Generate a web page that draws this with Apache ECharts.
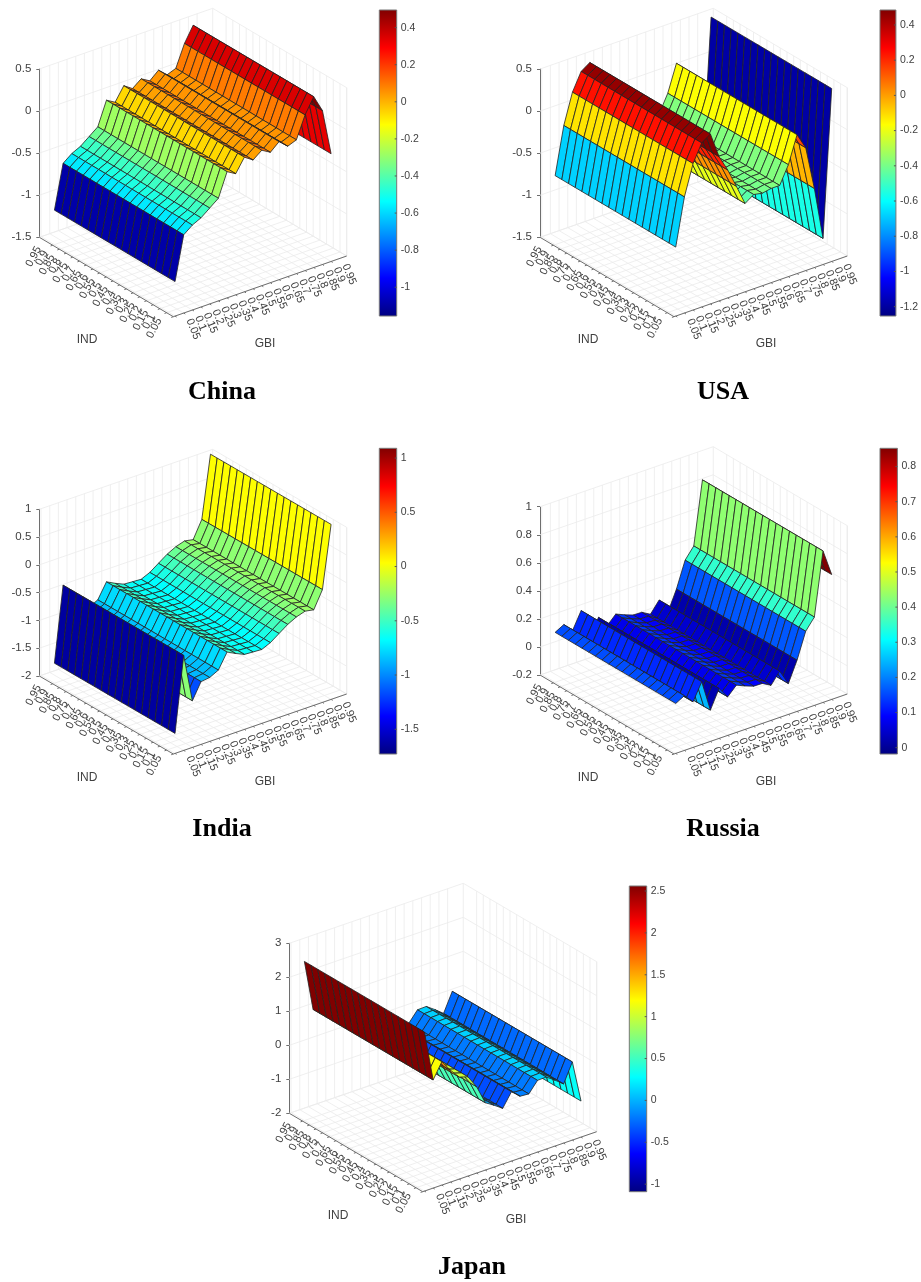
<!DOCTYPE html>
<html>
<head>
<meta charset="utf-8">
<style>
  html, body { margin: 0; padding: 0; background: #fff; }
  #chart { width: 921px; height: 1282px; }
</style>
<script src="https://cdn.jsdelivr.net/npm/echarts@6/dist/echarts.min.js"></script>
</head>
<body>
<div id="chart"></div>
<script>
// tick labels shared by both floor axes
const indLabels = ['0.05','0.1','0.15','0.2','0.25','0.3','0.35','0.4','0.45','0.5','0.55','0.6','0.65','0.7','0.75','0.8','0.85','0.9','0.95'];
const gbiLabels = ['0.05','0.1','0.15','0.2','0.25','0.3','0.35','0.4','0.45','0.5','0.55','0.6','0.65','0.7','0.75','0.8','0.85','0.9','0.95'];

// surface height per GBI level, the ridges run along IND
const chinaZ = [-1.09,-0.57,-0.49,-0.44,-0.36,-0.28,0.0,-0.06,0.1,0.03,0.11,0.05,0.14,0.05,0.09,0.35,0.53,0.33,-0.22];
const usaZ = [-0.68,-0.12,0.24,0.45,0.52,0.215,0.02,-0.21,-0.45,-0.38,-0.4,-0.38,-0.38,-0.17,0.15,-0.04,-0.56,-1.19,0.555];
const indiaZ = [-1.64,-0.29,-1.16,-0.87,-0.85,-0.77,-0.5,-0.58,-0.65,-0.66,-0.67,-0.6,-0.49,-0.38,-0.3,-0.25,-0.28,0.03,1.15];
const russiaZ = [0.156,0.19,0.125,0.247,0.023,0.156,0.075,0.137,0.11,0.087,0.085,0.05,0.13,0.02,0.165,0.35,0.43,0.88,0.69];
const japanZ = [2.68,1.18,1.63,1.29,1.0,0.92,0.54,-0.02,-0.18,-0.36,0.04,-0.18,-0.2,0.11,0.12,-0.06,-0.26,0.3,-0.94];

// colorbar ticks
const chinaBar = [0.4,0.2,0,-0.2,-0.4,-0.6,-0.8,-1];
const usaBar = [0.4,0.2,0,-0.2,-0.4,-0.6,-0.8,-1,-1.2];
const indiaBar = [1,0.5,0,-0.5,-1,-1.5];
const russiaBar = [0.8,0.7,0.6,0.5,0.4,0.3,0.2,0.1,0];
const japanBar = [2.5,2,1.5,1,0.5,0,-0.5,-1];

const jet = ['#000080','#0000ff','#0080ff','#00ffff','#80ff80','#ffff00','#ff8000','#ff0000','#800000'];

const panels = [
  { name: 'China', z: chinaZ, bar: chinaBar, cmin: -1.155, cmax: 0.495, zmin: -1.5, zmax: 0.5, zstep: 0.5,
    L: [39.3, 237.3], F: [173.3, 316.7], R: [346.7, 256], zTop: 69, barBox: [379.3, 10, 17.4, 306],
    title: [222, 392], ind: [87, 340], gbi: [265, 344] },
  { name: 'USA', z: usaZ, bar: usaBar, cmin: -1.253, cmax: 0.485, zmin: -1.5, zmax: 0.5, zstep: 0.5,
    L: [540, 237.3], F: [674, 316.7], R: [847.3, 256], zTop: 69, barBox: [880, 10, 17.4, 306],
    title: [723, 392], ind: [588, 340], gbi: [766, 344] },
  { name: 'India', z: indiaZ, bar: indiaBar, cmin: -1.728, cmax: 1.09, zmin: -2, zmax: 1, zstep: 0.5,
    L: [39.3, 676], F: [173.3, 754], R: [346.7, 694], zTop: 509.3, barBox: [379.3, 448.3, 17.4, 305.7],
    title: [222, 829], ind: [87, 778], gbi: [265, 782] },
  { name: 'Russia', z: russiaZ, bar: russiaBar, cmin: -0.018, cmax: 0.852, zmin: -0.2, zmax: 1, zstep: 0.2,
    L: [540, 675], F: [674, 754], R: [847.3, 694], zTop: 506.7, barBox: [880, 448.3, 17.4, 305.7],
    title: [723, 829], ind: [588, 778], gbi: [766, 782] },
  { name: 'Japan', z: japanZ, bar: japanBar, cmin: -1.09, cmax: 2.56, zmin: -2, zmax: 3, zstep: 1,
    L: [289.3, 1113.3], F: [422.7, 1191.7], R: [596.7, 1131.7], zTop: 943.3, barBox: [629.3, 886, 17.4, 305.7],
    title: [472, 1267], ind: [338, 1216], gbi: [516, 1220] }
];

const textColor = '#404040';
const axisColor = '#6e6e6e';
const gridColor = '#ebebeb';

// floor positions of the ticks, the box is 20 steps wide
const indFrac = (i) => i / 20;
const gbiFrac = (j) => (j + 0.2) / 20;

function boxOf(p) {
  const backTop = p.R[1] - p.F[1] + p.zTop;
  return { left: p.L[0], top: backTop, width: p.R[0] - p.L[0], height: p.F[1] - backTop };
}

// orthographic view: floor fractions plus height to the hidden 0..1 axes of the panel grid
function toAxes(p, n, g, z) {
  const box = boxOf(p);
  const zn = (z - p.zmin) / (p.zmax - p.zmin);
  const x = p.F[0] + g * (p.R[0] - p.F[0]) + n * (p.L[0] - p.F[0]);
  const y = p.F[1] + g * (p.R[1] - p.F[1]) + n * (p.L[1] - p.F[1]) - zn * (p.L[1] - p.zTop);
  return [(x - box.left) / box.width, (p.F[1] - y) / box.height];
}

function wallSegments(p) {
  const segs = [];
  const add = (a, b, kind) => segs.push([a[0], a[1], a[2], b[0], b[1], b[2], kind]);
  indLabels.forEach((_, i) => {
    const n = indFrac(i);
    add([n, 0, p.zmin], [n, 1, p.zmin], 0);
    add([n, 1, p.zmin], [n, 1, p.zmax], 0);
    add([n, 0, p.zmin], [n, -0.012, p.zmin], 1);
  });
  gbiLabels.forEach((_, j) => {
    const g = gbiFrac(j);
    add([0, g, p.zmin], [1, g, p.zmin], 0);
    add([1, g, p.zmin], [1, g, p.zmax], 0);
    add([0, g, p.zmin], [-0.012, g, p.zmin], 1);
  });
  const steps = Math.round((p.zmax - p.zmin) / p.zstep);
  for (let s = 0; s <= steps; s++) {
    const z = p.zmin + s * p.zstep;
    add([1, 0, z], [1, 1, z], 0);
    add([1, 1, z], [0, 1, z], 0);
  }
  add([1, 1, p.zmin], [1, 1, p.zmax], 0);
  add([0, 1, p.zmin], [0, 1, p.zmax], 0);
  add([1, 1, p.zmin], [0, 1, p.zmin], 0);
  add([1, 0, p.zmin], [1, 1, p.zmin], 0);
  add([1, 0, p.zmin], [0, 0, p.zmin], 1);
  add([0, 0, p.zmin], [0, 1, p.zmin], 1);
  return segs;
}

// far cells first so the near ridges paint over them
function surfaceCells(p) {
  const cells = [];
  for (let j = p.z.length - 2; j >= 0; j--) {
    for (let i = indLabels.length - 2; i >= 0; i--) {
      cells.push([i, j, p.z[j], p.z[j + 1]]);
    }
  }
  return cells;
}

const grids = [], xAxes = [], yAxes = [], series = [], titles = [];

panels.forEach((p) => {
  const box = boxOf(p);
  const main = grids.length;

  grids.push({ left: box.left, top: box.top, width: box.width, height: box.height });
  xAxes.push({ gridIndex: main, type: 'value', min: 0, max: 1, show: false });
  yAxes.push({ gridIndex: main, type: 'value', min: 0, max: 1, show: false });

  // height axis
  grids.push({ left: p.L[0], top: p.zTop, width: 1, height: p.L[1] - p.zTop });
  xAxes.push({ gridIndex: main + 1, type: 'value', min: 0, max: 1, show: false });
  yAxes.push({
    gridIndex: main + 1, type: 'value', min: p.zmin, max: p.zmax, interval: p.zstep,
    axisLine: { show: true, lineStyle: { color: axisColor, width: 1 } },
    axisTick: { show: true, length: 3, lineStyle: { color: axisColor } },
    axisLabel: { show: true, margin: 8, fontFamily: 'Liberation Sans', fontSize: 11.5, color: textColor },
    splitLine: { show: false }
  });

  // colorbar
  const [bx, by, bw, bh] = p.barBox;
  grids.push({ left: bx, top: by, width: bw, height: bh });
  xAxes.push({ gridIndex: main + 2, type: 'value', min: 0, max: 1, show: false });
  yAxes.push({
    gridIndex: main + 2, type: 'value', position: 'right', min: p.cmin, max: p.cmax,
    axisLine: { show: false },
    axisTick: { show: false },
    axisLabel: { show: true, margin: 4, customValues: p.bar, formatter: (v) => String(v), fontFamily: 'Liberation Sans', fontSize: 10.5, color: textColor },
    splitLine: { show: false }
  });

  series.push({
    type: 'custom', xAxisIndex: main, yAxisIndex: main, silent: true, z: 1,
    data: wallSegments(p),
    renderItem(params, api) {
      const a = api.coord(toAxes(p, api.value(0), api.value(1), api.value(2)));
      const b = api.coord(toAxes(p, api.value(3), api.value(4), api.value(5)));
      const isAxis = api.value(6) === 1;
      return {
        type: 'line', silent: true,
        shape: { x1: a[0], y1: a[1], x2: b[0], y2: b[1] },
        style: { stroke: isAxis ? axisColor : gridColor, lineWidth: isAxis ? 1 : 0.8 }
      };
    }
  });

  series.push({
    type: 'custom', xAxisIndex: main, yAxisIndex: main, silent: true, z: 2,
    data: surfaceCells(p),
    renderItem(params, api) {
      const i = api.value(0), j = api.value(1), z0 = api.value(2), z1 = api.value(3);
      const corner = (ci, cj, cz) => api.coord(toAxes(p, indFrac(ci), gbiFrac(cj), cz));
      const t = Math.max(0, Math.min(1, (z0 - p.cmin) / (p.cmax - p.cmin)));
      return {
        type: 'polygon', silent: true,
        shape: { points: [corner(i, j, z0), corner(i + 1, j, z0), corner(i + 1, j + 1, z1), corner(i, j + 1, z1)] },
        style: { fill: echarts.color.lerp(t, jet), stroke: '#222', lineWidth: 0.8 }
      };
    }
  });

  // rotated tick labels of the floor axes
  series.push({
    type: 'custom', xAxisIndex: main, yAxisIndex: main, silent: true, z: 3,
    data: indLabels.map((_, i) => [i]),
    renderItem(params, api) {
      const i = api.value(0);
      const c = api.coord(toAxes(p, indFrac(i), 0, p.zmin));
      return {
        type: 'text', silent: true, x: c[0] - 14, y: c[1] + 2, rotation: 62 * Math.PI / 180,
        style: { text: indLabels[i], fill: textColor, font: '11px "Liberation Sans"', align: 'right', verticalAlign: 'middle' }
      };
    }
  });
  series.push({
    type: 'custom', xAxisIndex: main, yAxisIndex: main, silent: true, z: 3,
    data: gbiLabels.map((_, j) => [j]),
    renderItem(params, api) {
      const j = api.value(0);
      const c = api.coord(toAxes(p, 0, gbiFrac(j), p.zmin));
      return {
        type: 'text', silent: true, x: c[0] + 14, y: c[1] + 3, rotation: -68 * Math.PI / 180,
        style: { text: gbiLabels[j], fill: textColor, font: '11px "Liberation Sans"', align: 'left', verticalAlign: 'middle' }
      };
    }
  });

  series.push({
    type: 'custom', xAxisIndex: main + 2, yAxisIndex: main + 2, silent: true, z: 2,
    data: [[0, p.cmin, 1, p.cmax]],
    renderItem(params, api) {
      const a = api.coord([api.value(0), api.value(3)]);
      const b = api.coord([api.value(2), api.value(1)]);
      return {
        type: 'rect', silent: true,
        shape: { x: a[0], y: a[1], width: b[0] - a[0], height: b[1] - a[1] },
        style: {
          fill: new echarts.graphic.LinearGradient(0, 1, 0, 0, jet.map((color, s) => ({ offset: s / (jet.length - 1), color }))),
          stroke: '#777', lineWidth: 1
        }
      };
    }
  });

  // colorbar ticks, short and on the inner side of the right edge
  series.push({
    type: 'custom', xAxisIndex: main + 2, yAxisIndex: main + 2, silent: true, z: 3,
    data: p.bar.map((v) => [1, v]),
    renderItem(params, api) {
      const c = api.coord([api.value(0), api.value(1)]);
      return {
        type: 'line', silent: true,
        shape: { x1: c[0] - 2, y1: c[1], x2: c[0], y2: c[1] },
        style: { stroke: '#555', lineWidth: 1 }
      };
    }
  });

  titles.push({
    text: p.name, left: p.title[0], top: p.title[1], padding: 0, textAlign: 'center', textVerticalAlign: 'middle',
    textStyle: { fontFamily: 'Liberation Serif', fontWeight: 'bold', fontSize: 26, color: '#000' }
  });
  titles.push({
    text: 'IND', left: p.ind[0], top: p.ind[1], padding: 0, textAlign: 'center', textVerticalAlign: 'middle',
    textStyle: { fontFamily: 'Liberation Sans', fontWeight: 'normal', fontSize: 12, color: textColor }
  });
  titles.push({
    text: 'GBI', left: p.gbi[0], top: p.gbi[1], padding: 0, textAlign: 'center', textVerticalAlign: 'middle',
    textStyle: { fontFamily: 'Liberation Sans', fontWeight: 'normal', fontSize: 12, color: textColor }
  });
});

const chart = echarts.init(document.getElementById('chart'));
chart.setOption({
  animation: false,
  backgroundColor: '#fff',
  title: titles,
  grid: grids,
  xAxis: xAxes,
  yAxis: yAxes,
  series
});
</script>
</body>
</html>
